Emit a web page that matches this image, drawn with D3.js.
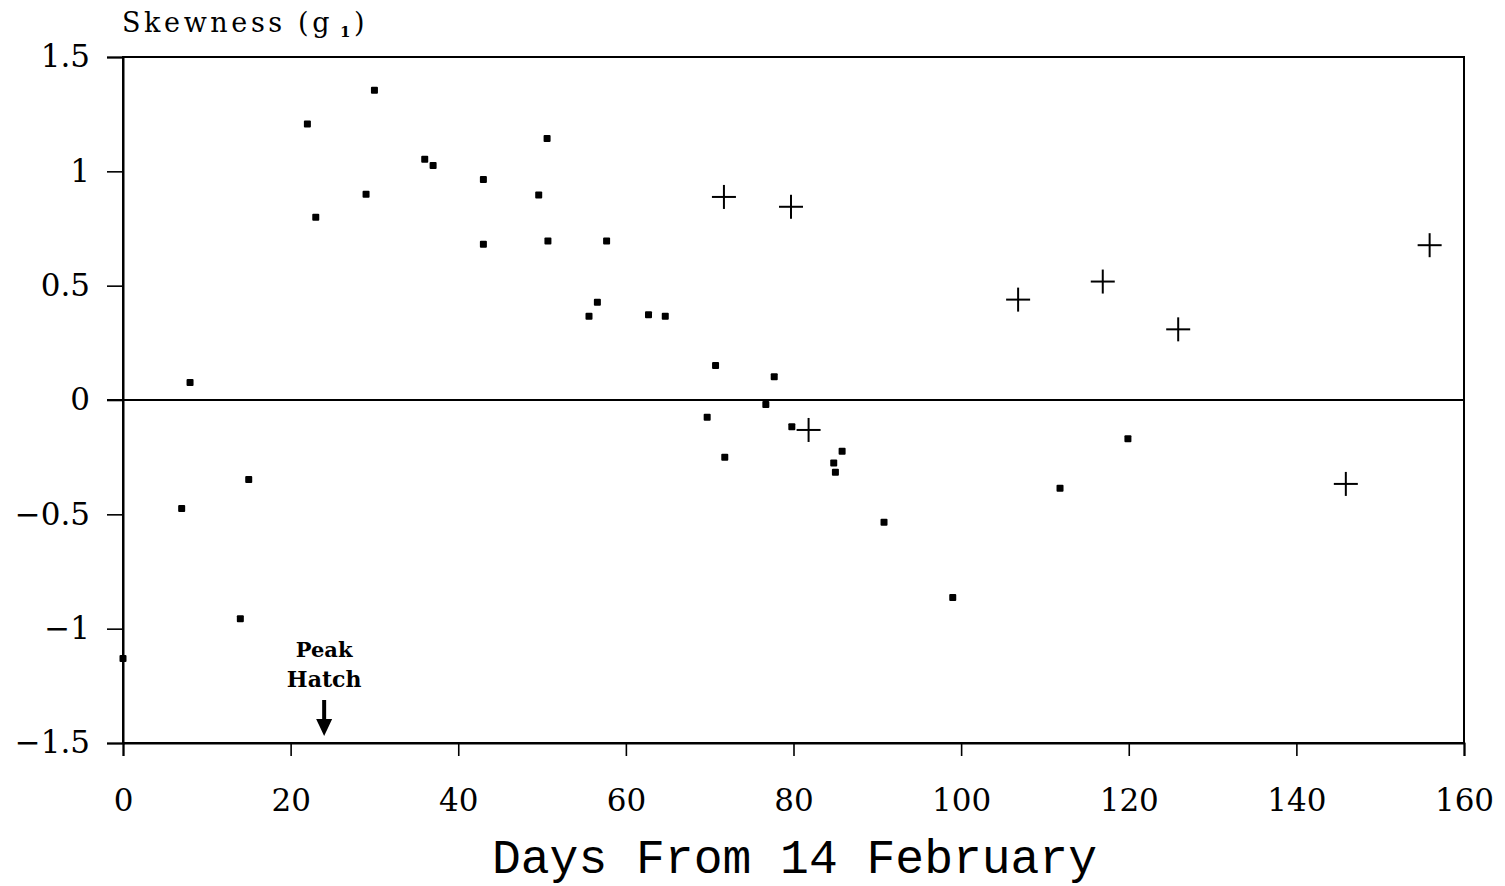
<!DOCTYPE html>
<html><head><meta charset="utf-8">
<script src="https://cdn.jsdelivr.net/npm/d3@7"></script>
<style>body{margin:0;background:#fff}svg{display:block}</style>
</head><body>
<script>
// Data
const squareDays = [0,7,8,14,15,22,23,29,30,36,37,43,43,49.6,50.6,50.7,55.6,56.6,57.7,62.7,64.7,69.7,70.7,71.8,76.7,77.7,79.8,84.8,85,85.8,90.8,99,111.8,119.9];
const squareSkew = [-1.13,-0.475,0.077,-0.957,-0.348,1.207,0.799,0.9,1.355,1.053,1.026,0.964,0.681,0.896,1.144,0.695,0.366,0.428,0.695,0.373,0.366,-0.075,0.151,-0.25,-0.02,0.102,-0.117,-0.275,-0.316,-0.224,-0.535,-0.864,-0.386,-0.17];
const plusDays = [71.7,79.7,81.8,106.8,116.9,125.9,145.9,155.9];
const plusSkew = [0.888,0.845,-0.131,0.439,0.518,0.309,-0.367,0.677];
const xTicks = [0,20,40,60,80,100,120,140,160];
const yTicks = [-1.5,-1,-0.5,0,0.5,1,1.5];
const peakHatchDay = 24;

const W=1505,H=886;
const L=123,R=1464,T=57,B=743;
const svg=d3.select("body").append("svg").attr("width",W).attr("height",H);
const x=d3.scaleLinear().domain([0,160]).range([L,R]);
const y=d3.scaleLinear().domain([-1.5,1.5]).range([B,T]);
const serif="'DejaVu Serif', 'Liberation Serif', serif";

// Frame
svg.append("rect").attr("x",L).attr("y",T).attr("width",R-L).attr("height",B-T)
  .attr("fill","none").attr("stroke","#000").attr("stroke-width",2);

// Y axis
const ya=svg.append("g").attr("transform",`translate(${L},0)`)
  .call(d3.axisLeft(y).tickValues(yTicks).tickSize(16).tickPadding(17).tickFormat(d3.format("")));
ya.select(".domain").attr("stroke-width",2);
ya.selectAll(".tick line").attr("stroke-width",1.6);
ya.selectAll("text").attr("font-family",serif).attr("font-size",31).attr("fill","#000");

// X axis
const xa=svg.append("g").attr("transform",`translate(0,${B})`)
  .call(d3.axisBottom(x).tickValues(xTicks).tickSize(13).tickPadding(33).tickFormat(d3.format("")));
xa.select(".domain").attr("stroke-width",2);
xa.selectAll(".tick line").attr("stroke-width",1.6);
xa.selectAll("text").attr("font-family",serif).attr("font-size",31).attr("fill","#000");

// Zero line
svg.append("line").attr("x1",L-16).attr("x2",R).attr("y1",y(0)).attr("y2",y(0))
  .attr("stroke","#000").attr("stroke-width",2.2);

// Square markers
svg.append("g").selectAll("rect").data(squareDays.map((d,i)=>[d,squareSkew[i]])).join("rect")
  .attr("x",d=>x(d[0])-3.5).attr("y",d=>y(d[1])-3.5).attr("width",7).attr("height",7)
  .attr("rx",1).attr("fill","#000");

// Plus markers
const pg=svg.append("g").attr("stroke","#000").attr("stroke-width",2);
plusDays.forEach((d,i)=>{
  const cx=x(d),cy=y(plusSkew[i]);
  pg.append("line").attr("x1",cx-12).attr("x2",cx+12).attr("y1",cy).attr("y2",cy);
  pg.append("line").attr("x1",cx).attr("x2",cx).attr("y1",cy-12).attr("y2",cy+12);
});

// Peak Hatch annotation
const px=x(peakHatchDay);
svg.append("text").attr("x",px).attr("y",657).attr("text-anchor","middle")
  .attr("font-family",serif).attr("font-weight","bold").attr("font-size",21).text("Peak");
svg.append("text").attr("x",px).attr("y",687).attr("text-anchor","middle")
  .attr("font-family",serif).attr("font-weight","bold").attr("font-size",22).text("Hatch");
svg.append("line").attr("x1",px).attr("x2",px).attr("y1",700).attr("y2",722)
  .attr("stroke","#000").attr("stroke-width",4);
svg.append("path").attr("d",`M${px-8},${719}L${px+8},${719}L${px},${736}Z`).attr("fill","#000");

// Y title
svg.append("text").attr("x",122).attr("y",32).attr("font-family",serif)
  .attr("font-size",27).attr("letter-spacing",3.6).attr("fill","#000").text("Skewness (g");
svg.append("text").attr("x",340).attr("y",37).attr("font-family",serif)
  .attr("font-size",15).attr("font-weight","bold").attr("fill","#000").text("1");
svg.append("text").attr("x",354).attr("y",32).attr("font-family",serif)
  .attr("font-size",27).attr("fill","#000").text(")");

// X title
svg.append("text").attr("x",(L+R)/2+1).attr("y",873).attr("text-anchor","middle")
  .attr("font-family","'Liberation Mono', monospace").attr("font-size",48)
  .attr("textLength",605).attr("lengthAdjust","spacingAndGlyphs").text("Days From 14 February");
</script>
</body></html>
